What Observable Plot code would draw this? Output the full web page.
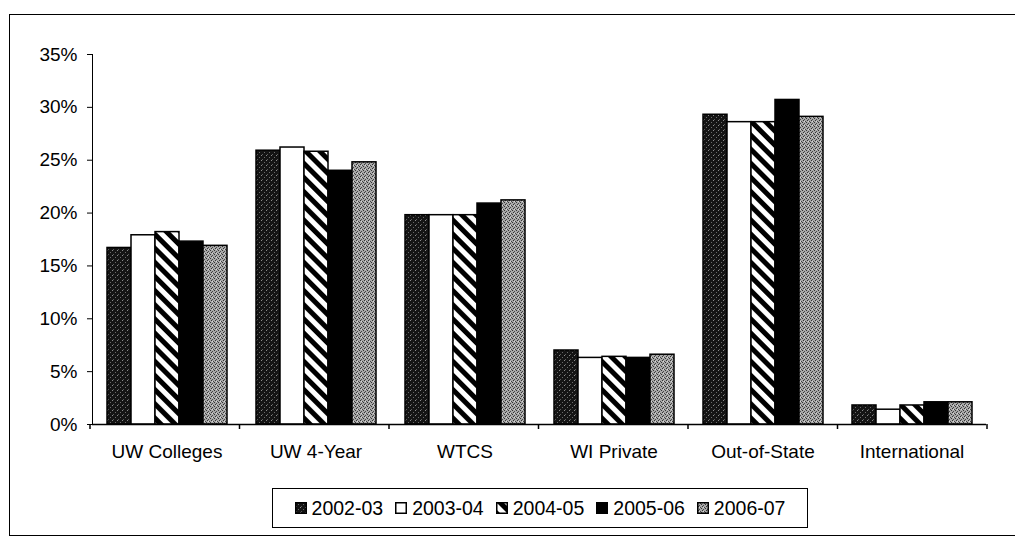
<!DOCTYPE html>
<html>
<head>
<meta charset="utf-8">
<script src="https://cdn.jsdelivr.net/npm/d3@7"></script>
<script src="https://cdn.jsdelivr.net/npm/@observablehq/plot@0.6"></script>
<style>
  html, body { margin: 0; padding: 0; background: #fff; }
  body { width: 1015px; height: 539px; position: relative; overflow: hidden;
         font-family: "Liberation Sans", Arial, sans-serif; color: #000; }
  #frame { position: absolute; left: 9px; top: 14px; width: 1030px; height: 522px;
           border: 1.5px solid #000; border-right: none; box-sizing: border-box; pointer-events: none; }
  #chart svg { display: block; }
  #legend { margin-left: 272px; margin-top: 18px; width: 536px; height: 40px; box-sizing: border-box;
            border: 1.5px solid #000; display: flex; align-items: center; justify-content: center;
            font-size: 19.5px; background: #fff; }
  .item { display: flex; align-items: center; margin: 0 6px; }
  .item svg { margin-right: 5px; }
</style>
</head>
<body>
<svg width="0" height="0" style="position:absolute">
  <defs>
    <pattern id="pDark" patternUnits="userSpaceOnUse" width="5" height="5">
      <rect width="5" height="5" fill="#141414"/>
      <rect x="0" y="0" width="1" height="1" fill="#8a8a8a"/>
      <rect x="3" y="2" width="1" height="1" fill="#6a6a6a"/>
      <rect x="1" y="4" width="1" height="1" fill="#5a5a5a"/>
    </pattern>
    <pattern id="pGray" patternUnits="userSpaceOnUse" width="4" height="4">
      <rect width="4" height="4" fill="#a8a8a8"/>
      <rect x="1" y="0" width="1" height="1" fill="#333"/>
      <rect x="3" y="1" width="1" height="1" fill="#444"/>
      <rect x="0" y="2" width="1" height="1" fill="#333"/>
      <rect x="2" y="3" width="1" height="1" fill="#484848"/>
      <rect x="2" y="1" width="1" height="1" fill="#d8d8d8"/>
    </pattern>
    <pattern id="pHatch" patternUnits="userSpaceOnUse" width="10" height="10" patternTransform="rotate(-45)">
      <rect width="10" height="10" fill="#fff"/>
      <rect width="5" height="10" fill="#000"/>
    </pattern>
  </defs>
</svg>
<div id="frame"></div>
<div id="chart"></div>
<div id="legend"></div>
<script>
// ---- data ----
const categories = ["UW Colleges", "UW 4-Year", "WTCS", "WI Private", "Out-of-State", "International"];
const years = ["2002-03", "2003-04", "2004-05", "2005-06", "2006-07"];
const share2002_03 = [16.7, 25.9, 19.8, 7.0, 29.3, 1.8];
const share2003_04 = [17.9, 26.2, 19.8, 6.3, 28.6, 1.4];
const share2004_05 = [18.2, 25.8, 19.8, 6.4, 28.6, 1.8];
const share2005_06 = [17.3, 24.0, 20.9, 6.3, 30.7, 2.1];
const share2006_07 = [16.9, 24.8, 21.2, 6.6, 29.1, 2.1];
const yTickValues = [0, 5, 10, 15, 20, 25, 30, 35];

const seriesValues = [share2002_03, share2003_04, share2004_05, share2005_06, share2006_07];
const fills = ["url(#pDark)", "#ffffff", "url(#pHatch)", "#000000", "url(#pGray)"];
const data = categories.flatMap((c, i) =>
  years.map((yr, j) => ({category: c, year: yr, value: seriesValues[j][i]})));

const plot = Plot.plot({
  width: 1015,
  height: 470,
  marginLeft: 90,
  marginRight: 28,
  marginTop: 54,
  marginBottom: 46,
  style: {fontFamily: "'Liberation Sans', Arial, sans-serif", fontSize: "19px", color: "#000", background: "transparent", overflow: "visible"},
  fx: {domain: categories, padding: 0, label: null, tickSize: 0, tickPadding: 20},
  x: {domain: years, paddingInner: 0, paddingOuter: 0.55, axis: null},
  y: {domain: [0, 35], ticks: yTickValues, tickFormat: d => `${d}%`, tickSize: 5, tickPadding: 10, line: true, label: null},
  color: {domain: years, range: fills},
  marks: [
    Plot.barY(data, {fx: "category", x: "year", y: "value", fill: "year", stroke: "#000", strokeWidth: 1.5}),
    Plot.ruleY([0], {stroke: "#000", strokeWidth: 1.5})
  ]
});
document.getElementById("chart").appendChild(plot);

// category boundary ticks from the fx scale
try {
  const fx = plot.scale("fx");
  const ys = plot.scale("y");
  if (fx && ys) {
    const band = d3.scaleBand(fx.domain, fx.range)
      .paddingInner(fx.paddingInner ?? 0).paddingOuter(fx.paddingOuter ?? 0).align(fx.align ?? 0.5);
    const bounds = fx.domain.map(c => band(c)).concat([band(fx.domain[fx.domain.length - 1]) + band.bandwidth()]);
    const base = ys.range[0];
    d3.select(plot).append("g").attr("stroke", "#000").attr("stroke-width", 1.5)
      .selectAll("line").data(bounds).join("line")
      .attr("x1", d => d).attr("x2", d => d).attr("y1", base).attr("y2", base + 5);
  }
} catch (e) { console.log(e); }

// legend
const legend = d3.select("#legend");
years.forEach((yr, j) => {
  const it = legend.append("div").attr("class", "item");
  const s = it.append("svg").attr("width", 12).attr("height", 12);
  s.append("rect").attr("x", 0.75).attr("y", 0.75).attr("width", 10.5).attr("height", 10.5)
    .attr("fill", fills[j]).attr("stroke", "#000").attr("stroke-width", 1.5);
  it.append("span").text(yr);
});
</script>
</body>
</html>
